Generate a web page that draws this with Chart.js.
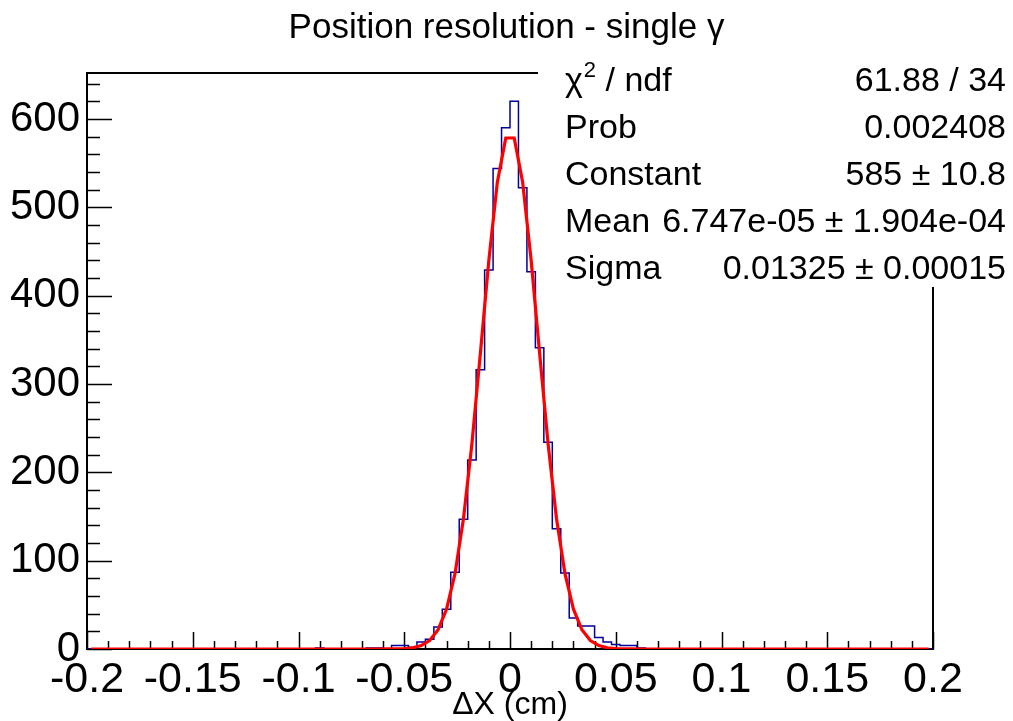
<!DOCTYPE html>
<html>
<head>
<meta charset="utf-8">
<script src="https://cdn.jsdelivr.net/npm/chart.js@4.4.1/dist/chart.umd.min.js"></script>
<style>
  html, body { margin: 0; padding: 0; background: #fff; }
  #wrap { width: 1013px; height: 721px; }
</style>
</head>
<body>
<div id="wrap"><canvas id="hist"></canvas></div>
<script>
// 100 bins from -0.2 to 0.2 (width 0.004)
const xMin = -0.2;
const binWidth = 0.004;
const counts = [
  0, 0, 0, 0, 0, 0, 0, 0, 0, 0,
  0, 0, 0, 0, 0, 0, 0, 0, 0, 0,
  0, 0, 0, 0, 0, 0, 0, 1, 0, 0,
  0, 0, 0, 1, 1, 0, 4, 4, 2, 8,
  11, 25, 45, 87, 147, 214, 316, 429, 544, 590,
  620, 522, 427, 341, 234, 136, 86, 35, 26, 26,
  13, 8, 5, 4, 4, 1, 0, 0, 0, 0,
  0, 0, 0, 0, 0, 0, 0, 0, 0, 0,
  0, 0, 0, 0, 0, 0, 0, 0, 0, 0,
  0, 0, 0, 0, 0, 0, 0, 0, 0, 0
];
// gaus fit curve, read at the bin centres
const fitValues = [
  0, 0, 0, 0, 0, 0, 0, 0, 0, 0,
  0, 0, 0, 0, 0, 0, 0, 0, 0, 0,
  0, 0, 0, 0, 0, 0, 0, 0, 0, 0,
  0, 0, 0, 0, 0, 0.04, 0.14, 0.47, 1.4, 3.9,
  9.6, 21.8, 45.1, 85.3, 147.4, 232.5, 334.8, 440.0, 528.0, 578.4,
  578.4, 528.0, 440.0, 334.8, 232.5, 147.4, 85.3, 45.1, 21.8, 9.6,
  3.9, 1.4, 0.47, 0.14, 0.04, 0, 0, 0, 0, 0,
  0, 0, 0, 0, 0, 0, 0, 0, 0, 0,
  0, 0, 0, 0, 0, 0, 0, 0, 0, 0,
  0, 0, 0, 0, 0, 0, 0, 0, 0, 0
];
const yMax = 652;
const yTickValues = [0, 100, 200, 300, 400, 500, 600];

const statLabels = ['χ2 / ndf', 'Prob', 'Constant', 'Mean', 'Sigma'];
const statValues = ['61.88 / 34', '0.002408', '585 ± 10.8', '6.747e-05 ± 1.904e-04', '0.01325 ± 0.00015'];

const FONT = "'Liberation Sans', Arial, sans-serif";
Chart.defaults.font.family = FONT;
Chart.defaults.color = '#000';

// histogram outline: one point per left bin edge + closing edge
const histPoints = counts.map((c, i) => ({x: xMin + i * binWidth, y: c}));
histPoints.push({x: xMin + counts.length * binWidth, y: counts[counts.length - 1]});
const fitPoints = fitValues.map((v, i) => ({x: xMin + (i + 0.5) * binWidth, y: v}));

// ROOT-like frame, inward ticks and stats box
const rootFrame = {
  id: 'rootFrame',
  beforeDatasetsDraw(chart) {
    const {ctx, chartArea: a, scales: {x, y}} = chart;
    ctx.save();
    ctx.strokeStyle = '#000';
    ctx.lineWidth = 2;
    ctx.strokeRect(a.left, a.top, a.right - a.left, a.bottom - a.top);
    ctx.lineWidth = 1.5;
    ctx.beginPath();
    for (let v = 0; v <= yMax; v += 20) {
      const py = Math.round(y.getPixelForValue(v)) + 0.5;
      const len = v % 100 === 0 ? 25 : 13;
      ctx.moveTo(a.left, py);
      ctx.lineTo(a.left + len, py);
    }
    for (let k = -20; k <= 20; k++) {
      const px = Math.round(x.getPixelForValue(k / 100)) + 0.5;
      const len = k % 5 === 0 ? 17 : 8;
      ctx.moveTo(px, a.bottom);
      ctx.lineTo(px, a.bottom - len);
    }
    ctx.stroke();
    ctx.restore();
  },
  afterDatasetsDraw(chart) {
    const {ctx} = chart;
    ctx.save();
    ctx.fillStyle = '#fff';
    ctx.fillRect(538, 56, 1013 - 538, 287 - 56);
    ctx.fillStyle = '#000';
    ctx.textBaseline = 'alphabetic';
    statLabels.forEach((lab, i) => {
      const by = 91 + 47 * i;
      ctx.font = '34px ' + FONT;
      ctx.textAlign = 'left';
      if (i === 0) {
        ctx.fillText('χ', 565, by);
        const w = ctx.measureText('χ').width;
        ctx.font = '22px ' + FONT;
        ctx.fillText('2', 565 + w + 1, by - 14);
        const w2 = ctx.measureText('2').width;
        ctx.font = '34px ' + FONT;
        ctx.fillText(' / ndf', 565 + w + w2 + 1, by);
      } else {
        ctx.fillText(lab, 565, by);
      }
      ctx.textAlign = 'right';
      ctx.fillText(statValues[i], 1006, by);
    });
    ctx.restore();
  }
};

new Chart(document.getElementById('hist'), {
  type: 'line',
  data: {
    datasets: [
      {
        label: 'gaus',
        data: fitPoints,
        borderColor: '#ff0000',
        borderWidth: 3.2,
        pointRadius: 0,
        tension: 0,
        order: 0
      },
      {
        label: 'dx',
        data: histPoints,
        borderColor: '#00009a',
        borderWidth: 1.5,
        pointRadius: 0,
        stepped: true,
        order: 1
      }
    ]
  },
  options: {
    responsive: true,
    maintainAspectRatio: false,
    animation: false,
    layout: {padding: 0},
    plugins: {
      legend: {display: false},
      tooltip: {enabled: false},
      title: {
        display: true,
        text: 'Position resolution - single γ',
        font: {size: 35, weight: 'normal', lineHeight: 1.2},
        color: '#000',
        padding: {top: 7, bottom: 24}
      }
    },
    scales: {
      x: {
        type: 'linear',
        min: -0.2,
        max: 0.2,
        grid: {display: false, drawTicks: false},
        border: {display: false},
        ticks: {
          stepSize: 0.05,
          autoSkip: false,
          maxRotation: 0,
          padding: 5,
          font: {size: 43},
          color: '#000',
          callback: v => String(Number(v.toFixed(2)))
        },
        title: {
          display: true,
          text: 'ΔX (cm)',
          font: {size: 32, lineHeight: 1},
          color: '#000',
          padding: {top: 0, bottom: 0}
        },
        afterFit: s => { s.height = 72; }
      },
      y: {
        min: 0,
        max: yMax,
        grid: {display: false, drawTicks: false},
        border: {display: false},
        ticks: {
          padding: 7,
          font: {size: 42},
          color: '#000'
        },
        afterBuildTicks: s => { s.ticks = yTickValues.map(v => ({value: v})); },
        afterFit: s => { s.width = 87; }
      },
      yRight: {
        position: 'right',
        min: 0,
        max: 1,
        grid: {display: false, drawTicks: false},
        border: {display: false},
        ticks: {display: false},
        afterFit: s => { s.width = 80; }
      }
    }
  },
  plugins: [rootFrame]
});
</script>
</body>
</html>
